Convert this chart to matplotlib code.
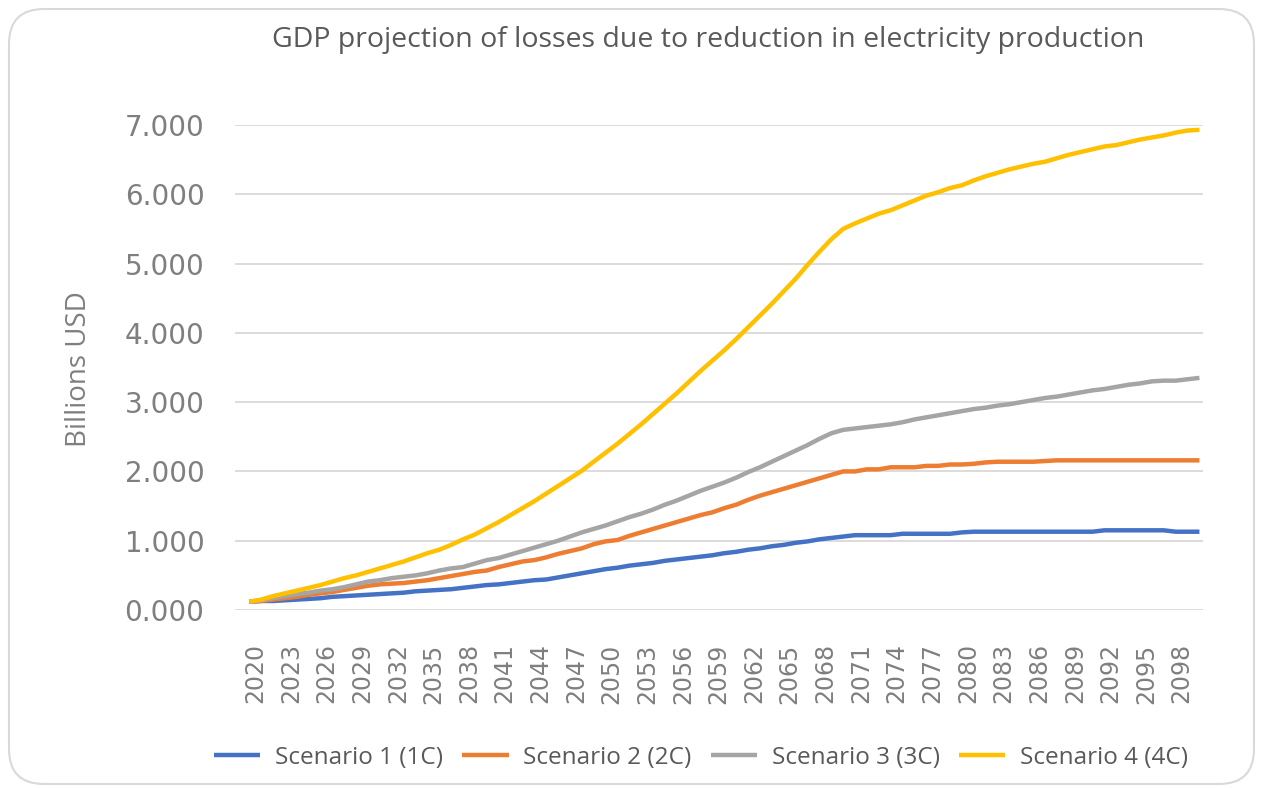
import numpy as np
import matplotlib
matplotlib.use("Agg")
import matplotlib.pyplot as plt
import matplotlib.transforms as mtransforms
from matplotlib.patches import FancyBboxPatch

plt.rcParams['font.family'] = ['Open Sans', 'DejaVu Sans']

#%% data (billions USD)
years = list(range(2020, 2101))

scenario_1 = [0.12, 0.13, 0.13, 0.14, 0.15, 0.16, 0.17, 0.19, 0.20, 0.21,
              0.22, 0.23, 0.24, 0.25, 0.27, 0.28, 0.29, 0.30, 0.32, 0.34,
              0.36, 0.37, 0.39, 0.41, 0.43, 0.44, 0.47, 0.50, 0.53, 0.56,
              0.59, 0.61, 0.64, 0.66, 0.68, 0.71, 0.73, 0.75, 0.77, 0.79,
              0.82, 0.84, 0.87, 0.89, 0.92, 0.94, 0.97, 0.99, 1.02, 1.04,
              1.06, 1.08, 1.08, 1.08, 1.08, 1.10, 1.10, 1.10, 1.10, 1.10,
              1.12, 1.13, 1.13, 1.13, 1.13, 1.13, 1.13, 1.13, 1.13, 1.13,
              1.13, 1.13, 1.15, 1.15, 1.15, 1.15, 1.15, 1.15, 1.13, 1.13,
              1.13]

scenario_2 = [0.12, 0.13, 0.15, 0.17, 0.19, 0.22, 0.24, 0.26, 0.29, 0.32,
              0.35, 0.37, 0.38, 0.39, 0.41, 0.43, 0.46, 0.49, 0.52, 0.55,
              0.57, 0.62, 0.66, 0.70, 0.72, 0.76, 0.81, 0.85, 0.89, 0.95,
              0.99, 1.01, 1.07, 1.12, 1.17, 1.22, 1.27, 1.32, 1.37, 1.41,
              1.47, 1.52, 1.59, 1.65, 1.70, 1.75, 1.80, 1.85, 1.90, 1.95,
              2.00, 2.00, 2.03, 2.03, 2.06, 2.06, 2.06, 2.08, 2.08, 2.10,
              2.10, 2.11, 2.13, 2.14, 2.14, 2.14, 2.14, 2.15, 2.16, 2.16,
              2.16, 2.16, 2.16, 2.16, 2.16, 2.16, 2.16, 2.16, 2.16, 2.16,
              2.16]

scenario_3 = [0.12, 0.14, 0.17, 0.20, 0.23, 0.25, 0.28, 0.30, 0.33, 0.37,
              0.41, 0.43, 0.46, 0.48, 0.50, 0.53, 0.57, 0.60, 0.62, 0.67,
              0.72, 0.75, 0.80, 0.85, 0.90, 0.95, 1.00, 1.06, 1.12, 1.17,
              1.22, 1.28, 1.34, 1.39, 1.45, 1.52, 1.58, 1.65, 1.72, 1.78,
              1.84, 1.91, 1.99, 2.06, 2.14, 2.22, 2.30, 2.38, 2.47, 2.55,
              2.60, 2.62, 2.64, 2.66, 2.68, 2.71, 2.75, 2.78, 2.81, 2.84,
              2.87, 2.90, 2.92, 2.95, 2.97, 3.00, 3.03, 3.06, 3.08, 3.11,
              3.14, 3.17, 3.19, 3.22, 3.25, 3.27, 3.30, 3.31, 3.31, 3.33,
              3.35]

scenario_4 = [0.12, 0.15, 0.20, 0.24, 0.28, 0.32, 0.36, 0.41, 0.46, 0.50,
              0.55, 0.60, 0.65, 0.70, 0.76, 0.82, 0.87, 0.94, 1.02, 1.09,
              1.18, 1.27, 1.37, 1.47, 1.57, 1.68, 1.79, 1.90, 2.01, 2.14,
              2.27, 2.40, 2.54, 2.68, 2.83, 2.98, 3.13, 3.29, 3.45, 3.60,
              3.75, 3.91, 4.08, 4.25, 4.42, 4.60, 4.78, 4.98, 5.17, 5.35,
              5.50, 5.58, 5.65, 5.72, 5.77, 5.84, 5.91, 5.98, 6.03, 6.09,
              6.13, 6.20, 6.26, 6.31, 6.36, 6.40, 6.44, 6.47, 6.52, 6.57,
              6.61, 6.65, 6.69, 6.71, 6.75, 6.79, 6.82, 6.85, 6.89, 6.92,
              6.93]

labels = ["Scenario 1 (1C)", "Scenario 2 (2C)", "Scenario 3 (3C)", "Scenario 4 (4C)"]
colors = ["#4472C4", "#ED7D31", "#A5A5A5", "#FFC000"]
yticks = [0, 1, 2, 3, 4, 5, 6, 7]

#%% figure
fig = plt.figure(figsize=(12.63, 7.88), dpi=100)
ax = fig.add_axes([235/1263, 1-610/788, (1203-235)/1263, (610-125)/788])

x = np.arange(len(years))
for series, lab, col in zip([scenario_1, scenario_2, scenario_3, scenario_4], labels, colors):
    ax.plot(x, series, color=col, lw=3.2, label=lab, solid_capstyle='butt')

ax.set_xlim(-1.2, 80.3)
ax.set_ylim(0, 7)
ax.set_yticks(yticks)
ax.set_yticklabels([f"{v:.3f}" for v in yticks], family='DejaVu Sans')
ax.set_xticks(x[::3])
ax.set_xticklabels([str(y) for y in years[::3]], rotation=90, family='DejaVu Sans')
ax.tick_params(axis='y', length=0, pad=22, labelsize=20, labelcolor='#7f7f7f')
ax.tick_params(axis='x', length=0, pad=24, labelsize=17, labelcolor='#7f7f7f')
ax.grid(axis='y', color='#d9d9d9', lw=1.3)
ax.set_axisbelow(True)
for s in ax.spines.values():
    s.set_visible(False)

# year labels sit a little to the right of their point, as in the original
shift = mtransforms.ScaledTranslation(6/100, 0, fig.dpi_scale_trans)
for lbl in ax.get_xticklabels():
    lbl.set_transform(lbl.get_transform() + shift)

fig.text(79/1263, 1-369/788, "Billions USD", rotation=90, ha='center', va='center',
         fontsize=20, color='#7f7f7f')

fig.text(708/1263, 1-40/788, "GDP projection of losses due to reduction in electricity production",
         ha='center', va='center', fontsize=20.5, color='#595959')

fig.legend(loc='center', bbox_to_anchor=(701/1263, 1-758/788), ncol=4, frameon=False,
           fontsize=17.5, labelcolor='#595959', handlelength=1.9, handletextpad=0.6,
           columnspacing=0.8)

# rounded chart border
border = FancyBboxPatch((9, 4), 1245, 775, boxstyle="round,pad=0,rounding_size=35",
                        transform=None, facecolor='none', edgecolor='#d9d9d9', lw=1.5)
fig.add_artist(border)

fig.savefig("out.png", dpi=100)
